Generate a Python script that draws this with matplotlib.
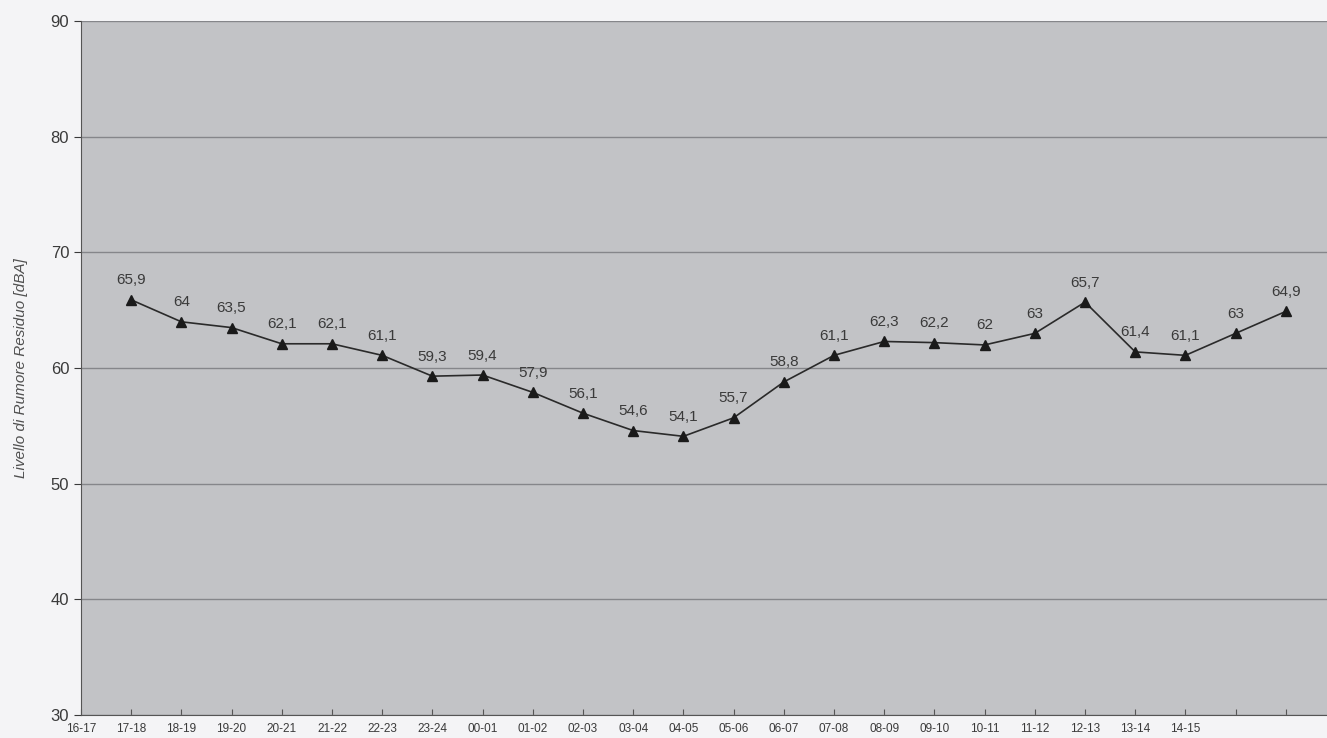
import matplotlib
matplotlib.use("Agg")
import matplotlib.pyplot as plt
import numpy as np

plt.rcParams["font.family"] = ["Liberation Sans", "DejaVu Sans"]

# fasce orarie (etichette asse x)
fasce = ["16-17", "17-18", "18-19", "19-20", "20-21", "21-22", "22-23", "23-24",
         "00-01", "01-02", "02-03", "03-04", "04-05", "05-06", "06-07", "07-08",
         "08-09", "09-10", "10-11", "11-12", "12-13", "13-14", "14-15"]

# livello di rumore residuo [dBA]
livelli = [65.9, 64, 63.5, 62.1, 62.1, 61.1, 59.3, 59.4, 57.9, 56.1, 54.6, 54.1,
           55.7, 58.8, 61.1, 62.3, 62.2, 62, 63, 65.7, 61.4, 61.1, 63, 64.9]

fig = plt.figure(figsize=(13.27, 7.38), dpi=100)
fig.patch.set_facecolor("#f4f4f6")
ax = fig.add_axes([0.061, 0.031, 0.939, 0.9405])
ax.set_facecolor("#c2c3c6")

x = np.arange(1, len(livelli) + 1)
ax.plot(x, livelli, color="#2a2a2a", linewidth=1.2,
        marker="^", markersize=7, markerfacecolor="#1a1a1a",
        markeredgecolor="#1a1a1a", zorder=3)

for xi, v in zip(x, livelli):
    txt = ("%g" % v).replace(".", ",")
    ax.annotate(txt, (xi, v), xytext=(0, 9), textcoords="offset points",
                ha="center", va="bottom", fontsize=11, color="#3a3a3a")

ax.set_xlim(0, 24.82)
ax.set_ylim(30, 90)
ax.set_yticks(np.arange(30, 91, 10))
ax.set_xticks(np.arange(0, 25))
ax.set_xticklabels(fasce + ["", ""], fontsize=8.5, color="#3a3a3a")
ax.tick_params(axis="y", labelsize=12, colors="#3a3a3a", length=5, direction="out")
ax.tick_params(axis="x", length=4, direction="in", pad=6, color="#555555")
ax.grid(axis="y", color="#85868a", linewidth=1.0)
ax.set_axisbelow(True)

for s in ["top", "right"]:
    ax.spines[s].set_visible(False)
ax.spines["left"].set_color("#555555")
ax.spines["bottom"].set_color("#555555")

ax.set_ylabel("Livello di Rumore Residuo [dBA]", fontsize=11, style="italic",
              color="#505050", labelpad=16)

fig.savefig("out.png", dpi=100, facecolor=fig.get_facecolor())
